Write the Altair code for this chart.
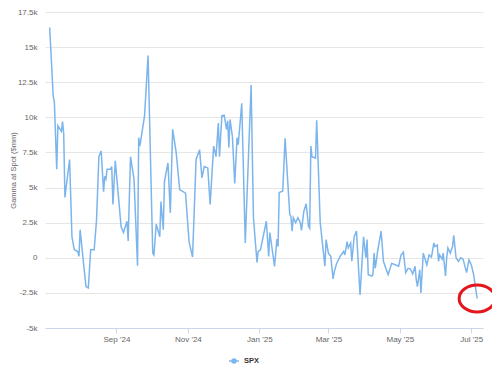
import altair as alt
import pandas as pd

dates = [
    "2024-07-06", "2024-07-09", "2024-07-10", "2024-07-12", "2024-07-13", "2024-07-16", "2024-07-17",
    "2024-07-18", "2024-07-19", "2024-07-23", "2024-07-25", "2024-07-27", "2024-07-30", "2024-07-31",
    "2024-08-01", "2024-08-03", "2024-08-06", "2024-08-08", "2024-08-10", "2024-08-13", "2024-08-15",
    "2024-08-17", "2024-08-19", "2024-08-21", "2024-08-22", "2024-08-23", "2024-08-24", "2024-08-27",
    "2024-08-28", "2024-08-29", "2024-08-31",
    "2024-09-05", "2024-09-07", "2024-09-10", "2024-09-11", "2024-09-13", "2024-09-16", "2024-09-19",
    "2024-09-20", "2024-09-21", "2024-09-25", "2024-09-28",
    "2024-10-02", "2024-10-03", "2024-10-05", "2024-10-08", "2024-10-09", "2024-10-11", "2024-10-12",
    "2024-10-15", "2024-10-17", "2024-10-19", "2024-10-22", "2024-10-25", "2024-10-30",
    "2024-11-02", "2024-11-05", "2024-11-08", "2024-11-11", "2024-11-13", "2024-11-15", "2024-11-18",
    "2024-11-20", "2024-11-23", "2024-11-25", "2024-11-27", "2024-11-28", "2024-11-30",
    "2024-12-02", "2024-12-04", "2024-12-05", "2024-12-06", "2024-12-07", "2024-12-09", "2024-12-11",
    "2024-12-13", "2024-12-14", "2024-12-17", "2024-12-20", "2024-12-25", "2024-12-27", "2024-12-30",
    "2024-12-31",
    "2025-01-02", "2025-01-07", "2025-01-09", "2025-01-10", "2025-01-14", "2025-01-16", "2025-01-17",
    "2025-01-18", "2025-01-21", "2025-01-23", "2025-01-27", "2025-01-28", "2025-01-29", "2025-01-30",
    "2025-02-01", "2025-02-03", "2025-02-05", "2025-02-06", "2025-02-08", "2025-02-10", "2025-02-12",
    "2025-02-13", "2025-02-14", "2025-02-15", "2025-02-18", "2025-02-19", "2025-02-22", "2025-02-26",
    "2025-02-27",
    "2025-03-01", "2025-03-03", "2025-03-05", "2025-03-06", "2025-03-08", "2025-03-11", "2025-03-14",
    "2025-03-15", "2025-03-17", "2025-03-18", "2025-03-20", "2025-03-21", "2025-03-23", "2025-03-25",
    "2025-03-26", "2025-03-28", "2025-03-31",
    "2025-04-02", "2025-04-03", "2025-04-04", "2025-04-07", "2025-04-08", "2025-04-09", "2025-04-10",
    "2025-04-12", "2025-04-15", "2025-04-17", "2025-04-19", "2025-04-21", "2025-04-24", "2025-04-27",
    "2025-04-30",
    "2025-05-02", "2025-05-04", "2025-05-06", "2025-05-08", "2025-05-10", "2025-05-12", "2025-05-14",
    "2025-05-15", "2025-05-16", "2025-05-18", "2025-05-19", "2025-05-21", "2025-05-24", "2025-05-26",
    "2025-05-28", "2025-05-30", "2025-05-31",
    "2025-06-02", "2025-06-03", "2025-06-04", "2025-06-06", "2025-06-07", "2025-06-09", "2025-06-10",
    "2025-06-11", "2025-06-13", "2025-06-15", "2025-06-16", "2025-06-18", "2025-06-20", "2025-06-22",
    "2025-06-24", "2025-06-26", "2025-06-27", "2025-06-29",
    "2025-07-01", "2025-07-03", "2025-07-06",
]

gamma = [
    16400, 11500, 11100, 6300, 9400, 9000, 9700, 8800, 4300, 7000, 1500, 570, 450, 100,
    2000, 350, -2050, -2150, 570, 570, 2700, 7200, 7600, 4700, 5800, 5600, 6300, 6300, 6500, 3800, 6900,
    2200, 1800, 2600, 1200, 7200, 5600, -570, 8550, 7950, 10100, 14400,
    330, 200, 2400, 1500, 4000, 2000, 5450, 6750, 3200, 9150, 7500, 4850, 4600,
    1150, 50, 7000, 7700, 5700, 6500, 6400, 3800, 7950, 7200, 9600, 7200, 10100,
    10150, 9150, 9750, 7850, 9850, 8650, 5300, 8550, 8050, 11000, 1050, 12300, 2850, -330, 450,
    570, 2600, 100, 1800, -620, 1330, 800, 4650, 4750, 8500, 3100, 2950, 1900, 2850,
    2500, 2850, 2500, 1950, 3300, 3850, 2250, 2100, 7950, 7200, 7100, 9800, 2500, -600, 1300,
    330, 100, -1500, -1000, -400, 100, 450, 200, 1150, 700, 1050, -250, 1500, 1900, 330, -2650, 1500,
    0, 1300, -1200, -1300, -1200, 330, -750, 450, 1900, -250, -750, -1200, -400, -500, -600,
    200, 400, -1050, -750, -800, -1150, -600, -1550, -2050, -850, -2500, 330, -500, 200, 50, 1050, 800,
    900, -250, 200, -100, 330, -1300, 0, 700, 330, 800, 1600, 0, -250, 0, -100, -750, -1050, -150,
    -500, -1200, -2900,
]

series_name = "SPX"
y_ticks = [-5000, -2500, 0, 2500, 5000, 7500, 10000, 12500, 15000, 17500]
x_tick_dates = [(2024, 9), (2024, 11), (2025, 1), (2025, 3), (2025, 5), (2025, 7)]

LINE_COLOR = "#7cb5ec"
FONT = "Liberation Sans"

df = pd.DataFrame({"date": dates, "gamma": gamma, "series": series_name})
last = df.tail(1)

x_enc = alt.X(
    "date:T",
    scale=alt.Scale(
        type="utc",
        domain=[alt.DateTime(year=2024, month=7, date=2, utc=True),
                alt.DateTime(year=2025, month=7, date=11, utc=True)],
    ),
    axis=alt.Axis(
        title=None,
        values=[alt.DateTime(year=y, month=m, date=1, utc=True) for y, m in x_tick_dates],
        tickCount=20,
        format="%b '%y",
        grid=False,
        domainColor="#ccd6eb",
        tickColor="#ccd6eb",
        tickSize=5,
        labelFontSize=8,
        labelColor="#666666",
        labelFont=FONT,
        labelPadding=2,
    ),
)

y_enc = alt.Y(
    "gamma:Q",
    scale=alt.Scale(domain=[-5000, 17501], nice=False, zero=False),
    axis=alt.Axis(
        title="Gamma at Spot ($mm)",
        titleFontSize=7.5,
        titleFont=FONT,
        titleFontWeight="normal",
        titleColor="#666666",
        titlePadding=0,
        values=y_ticks,
        tickCount=20,
        labelOverlap=False,
        labelExpr="datum.value == 0 ? '0' : (datum.value / 1000) + 'k'",
        labelFontSize=8,
        labelFont=FONT,
        labelColor="#666666",
        labelPadding=8,
        ticks=False,
        domain=False,
        gridColor="#e6e6e6",
        gridWidth=1,
    ),
)

line = alt.Chart(df).mark_line(strokeWidth=1.5, interpolate="linear").encode(
    x=x_enc,
    y=y_enc,
    color=alt.Color(
        "series:N",
        scale=alt.Scale(domain=[series_name], range=[LINE_COLOR]),
        legend=alt.Legend(
            title=None,
            orient="none",
            legendX=183,
            legendY=343,
            symbolType="M-1,0L1,0M0.4,0A0.4,0.4,0,1,1,-0.4,0A0.4,0.4,0,1,1,0.4,0Z",
            symbolSize=100,
            symbolStrokeWidth=1.5,
            symbolFillColor=LINE_COLOR,
            labelFontSize=7.5,
            labelFont=FONT,
            labelFontWeight="bold",
            labelColor="#333333",
            labelOffset=4,
        ),
    ),
)

ring = alt.Chart(last).mark_point(
    shape="M-1,0A1,0.75,0,1,0,1,0A1,0.75,0,1,0,-1,0Z",
    size=1296,
    filled=False,
    stroke="#e3161b",
    strokeWidth=3,
    opacity=1,
).encode(x="date:T", y="gamma:Q")

chart = (
    alt.layer(line, ring)
    .properties(
        width=438,
        height=316,
        autosize="none",
        padding={"left": 37, "top": 4, "right": 9, "bottom": 36},
        background="white",
    )
    .configure_view(stroke=None)
)

chart.save("out.html", embed_options={"renderer": "svg", "actions": False})
